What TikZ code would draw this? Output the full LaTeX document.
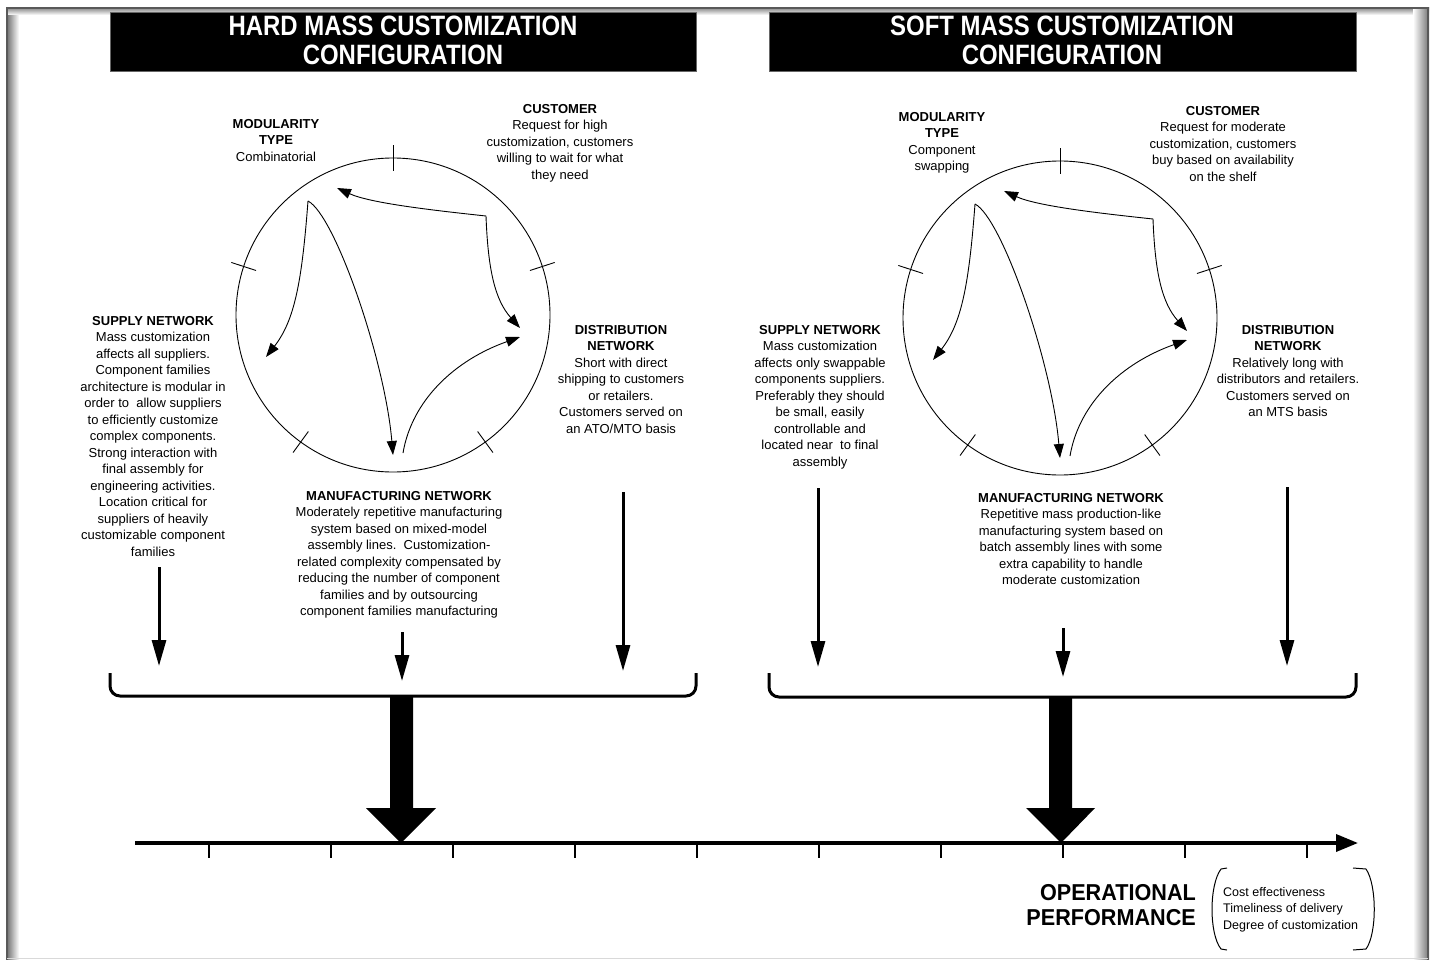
\documentclass[tikz,border=0pt]{standalone}
\usepackage{fontspec}
\setmainfont{Liberation Sans}
\newfontfamily\headfont{Liberation Sans}[FakeStretch=0.855]
\newfontfamily\perffont{Liberation Sans}[FakeStretch=0.94]
\usetikzlibrary{arrows.meta}

% cycle figure: circle with five ticks and the flow arrows between the networks
\tikzset{
  loopfig/.pic={
    \draw[line width=0.9pt] (0,0) circle[radius=157pt];
    \foreach \a in {90,162,18,234,306}
      \draw[line width=0.9pt] (\a:144pt) -- (\a:170pt);
    \coordinate (-p)  at (93,-99);
    \coordinate (-q)  at (-85,-114);
    \coordinate (-t1) at (-56,-127);
    \coordinate (-t2) at (127,13);
    \coordinate (-t3) at (-127,42);
    \coordinate (-t4) at (0,140);
    \coordinate (-s5) at (10,138);
    \coordinate (-t5) at (127,22);
    \draw[loopline] (-p) .. controls (37,-105) and (-23,-112) .. (-t1);
    \draw[loopline] (-p) .. controls (95,-45) and (102,-15) .. (-t2);
    \draw[loopline] (-q) .. controls (-91,-35) and (-98,5) .. (-t3);
    \draw[loopline] (-q) .. controls (-58,-100) and (-8,45) .. (-t4);
    \draw[loopline] (-s5) .. controls (19,85) and (62,45) .. (-t5);
  }
}

\begin{document}
\begin{tikzpicture}[x=1pt,y=-1pt,
  txt/.style={align=center, inner sep=0pt, anchor=north,
              font=\fontsize{13}{16.5}\selectfont},
  hdrbox/.style={fill=black, draw=black!60, line width=0.6pt},
  hdrtxt/.style={text=white, align=center, inner sep=0pt, anchor=north,
                 font=\headfont\bfseries\fontsize{28}{29}\selectfont},
  loopline/.style={line width=0.9pt, -{Triangle[length=14pt,width=10pt]}},
  feed/.style={line width=3pt, -{Triangle[length=26pt,width=14pt]}},
  bracket/.style={line width=3pt, rounded corners=10pt},
  axisline/.style={line width=3.5pt, -{Triangle[length=22pt,width=17pt]}},
  axistick/.style={line width=1.5pt},
  paren/.style={line width=1pt},
]
\useasboundingbox (0,0) rectangle (1434,960);
\fill[white] (0,0) rectangle (1434,960);

% page edge with its soft shadow
\shade[left color=black!55, right color=white] (7,8) rectangle (19,960);
\shade[top color=black!45, bottom color=white] (7,8) rectangle (1429,15);
\shade[left color=white, right color=black!55] (1413,8) rectangle (1429,960);
\draw[black!65, line width=1.5pt] (7,960) -- (7,8) -- (1428,8) -- (1428,960);
\draw[black!15, line width=1pt] (7,958.5) -- (1428,958.5);

% headers
\fill[hdrbox] (110,12) rectangle (696,71);
\fill[hdrbox] (769,12) rectangle (1356,71);
\node[hdrtxt] (hardhdr) at (403,16) {HARD MASS CUSTOMIZATION\\CONFIGURATION};
\node[hdrtxt] (softhdr) at (1062,16) {SOFT MASS CUSTOMIZATION\\CONFIGURATION};

% cycle figures
\pic (hl) at (393,315) {loopfig};
\pic (sl) at (1060,318) {loopfig};

% hard configuration texts
\node[txt] (hmod) at (276,119) {\textbf{MODULARITY}\\\textbf{TYPE}\\Combinatorial};
\node[txt] (hcust) at (560,104) {\textbf{CUSTOMER}\\Request for high\\customization, customers\\willing to wait for what\\they need};
\node[txt] (hsup) at (153,316) {\textbf{SUPPLY NETWORK}\\Mass customization\\affects all suppliers.\\Component families\\architecture is modular in\\order to\ \ allow suppliers\\to efficiently customize\\complex components.\\Strong interaction with\\final assembly for\\engineering activities.\\Location critical for\\suppliers of heavily\\customizable component\\families};
\node[txt] (hdist) at (621,325) {\textbf{DISTRIBUTION}\\\textbf{NETWORK}\\Short with direct\\shipping to customers\\or retailers.\\Customers served on\\an ATO/MTO basis};
\node[txt] (hman) at (399,491) {\textbf{MANUFACTURING NETWORK}\\Moderately repetitive manufacturing\\system based on mixed-model\\assembly lines.\ \ Customization-\\related complexity compensated by\\reducing the number of component\\families and by outsourcing\\component families manufacturing};

% soft configuration texts
\node[txt] (smod) at (942,112) {\textbf{MODULARITY}\\\textbf{TYPE}\\Component\\swapping};
\node[txt] (scust) at (1223,106) {\textbf{CUSTOMER}\\Request for moderate\\customization, customers\\buy based on availability\\on the shelf};
\node[txt] (ssup) at (820,325) {\textbf{SUPPLY NETWORK}\\Mass customization\\affects only swappable\\components suppliers.\\Preferably they should\\be small, easily\\controllable and\\located near\ \ to final\\assembly};
\node[txt] (sdist) at (1288,325) {\textbf{DISTRIBUTION}\\\textbf{NETWORK}\\Relatively long with\\distributors and retailers.\\Customers served on\\an MTS basis};
\node[txt] (sman) at (1071,493) {\textbf{MANUFACTURING NETWORK}\\Repetitive mass production-like\\manufacturing system based on\\batch assembly lines with some\\extra capability to handle\\moderate customization};

% feed arrows into the brackets
\coordinate (hsupA) at (159,567);  \coordinate (hsupB) at (159,666);
\coordinate (hmanA) at (402,632);  \coordinate (hmanB) at (402,681);
\coordinate (hdisA) at (623,492);  \coordinate (hdisB) at (623,671);
\coordinate (ssupA) at (818,488);  \coordinate (ssupB) at (818,667);
\coordinate (smanA) at (1063,628); \coordinate (smanB) at (1063,677);
\coordinate (sdisA) at (1287,487); \coordinate (sdisB) at (1287,666);
\draw[feed] (hsupA) -- (hsupB);
\draw[feed] (hmanA) -- (hmanB);
\draw[feed] (hdisA) -- (hdisB);
\draw[feed] (ssupA) -- (ssupB);
\draw[feed] (smanA) -- (smanB);
\draw[feed] (sdisA) -- (sdisB);

% brackets
\draw[bracket] (110,673) -- (110,696) -- (696,696) -- (696,673);
\draw[bracket] (769,673) -- (769,697) -- (1356,697) -- (1356,673);

% thick arrows onto the performance axis
\fill[black] (390,697) -- (413,697) -- (413,808) -- (436,808) -- (401,843)
             -- (366,808) -- (390,808) -- cycle;
\fill[black] (1049,698) -- (1072,698) -- (1072,808) -- (1095,808) -- (1061,843)
             -- (1026,808) -- (1049,808) -- cycle;

% operational performance axis
\coordinate (axA) at (135,843);
\coordinate (axB) at (1358,843);
\draw[axisline] (axA) -- (axB);
\foreach \x in {209,331,453,575,697,819,941,1063,1185,1307}
  \draw[axistick] (\x,844) -- (\x,858);

\node[align=right, inner sep=0pt, anchor=north east,
      font=\perffont\bfseries\fontsize{23}{25}\selectfont] (perf) at (1196,884)
      {OPERATIONAL\\PERFORMANCE};

% performance measures in parentheses
\draw[paren] (1227,868) -- (1221,869) .. controls (1209,885) and (1209,934) .. (1221,949) -- (1227,950);
\draw[paren] (1353,868) -- (1366,869) .. controls (1377,885) and (1377,934) .. (1366,949) -- (1353,950);
\node[align=left, inner sep=0pt, anchor=north west,
      font=\fontsize{12.5}{16.5}\selectfont] (measures) at (1223,887)
      {Cost effectiveness\\Timeliness of delivery\\Degree of customization};
\end{tikzpicture}
\end{document}
